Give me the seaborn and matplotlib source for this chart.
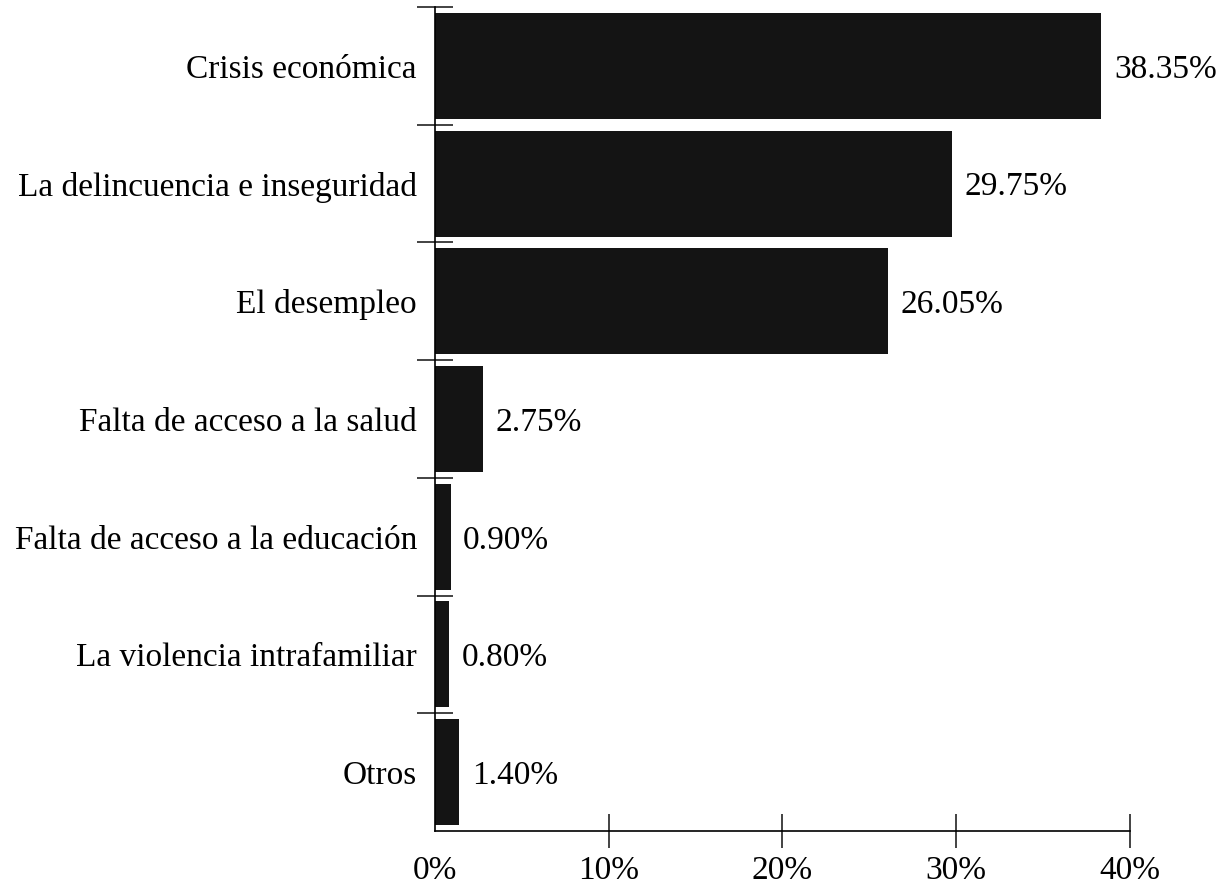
import matplotlib
matplotlib.use("Agg")
import matplotlib.pyplot as plt
import numpy as np
import pandas as pd
import seaborn as sns

categorias = [
    "Crisis económica",
    "La delincuencia e inseguridad",
    "El desempleo",
    "Falta de acceso a la salud",
    "Falta de acceso a la educación",
    "La violencia intrafamiliar",
    "Otros",
]
porcentajes = [38.35, 29.75, 26.05, 2.75, 0.90, 0.80, 1.40]
ticks_x = [0, 10, 20, 30, 40]

df = pd.DataFrame({"categoria": categorias, "porcentaje": porcentajes})

sns.set_theme(style="white")
plt.rcParams["font.family"] = ["Liberation Serif", "DejaVu Serif"]
plt.rcParams["text.color"] = "black"

fig = plt.figure(figsize=(12.19, 8.85), dpi=100)
ax = fig.add_axes([0.3568, 0.061, 0.927 - 0.3568, 0.992 - 0.061])

sns.barplot(data=df, x="porcentaje", y="categoria", color="#141414",
            saturation=1, width=0.9, ax=ax, edgecolor="none")

for cont in ax.containers:
    txts = ax.bar_label(cont, labels=[f"{v:.2f}%" for v in porcentajes],
                        padding=9, fontsize=24, color="black")
    for t in txts:
        t.set_verticalalignment("center_baseline")

ax.set_xlim(0, 40)
ax.set_ylim(len(categorias) - 0.5, -0.5)
ax.set_xticks(ticks_x)
ax.set_xticklabels([f"{t}%" for t in ticks_x])
ax.set_xlabel("")
ax.set_ylabel("")

# separadores entre categorias
ax.set_yticks(np.arange(-0.5, len(categorias) - 1, 1.0), minor=True)
ax.tick_params(axis="y", which="minor", direction="inout", length=26,
               width=1.2, color="#222222", left=True)
ax.tick_params(axis="y", which="major", length=0, pad=13, labelsize=24,
               labelcolor="black")
ax.tick_params(axis="x", which="major", direction="inout", length=25,
               width=1.2, color="#222222", bottom=True, pad=5, labelsize=24,
               labelcolor="black")
ax.xaxis.get_major_ticks()[0].tick1line.set_visible(False)
for lbl in ax.get_yticklabels():
    lbl.set_verticalalignment("center_baseline")

for s in ["top", "right"]:
    ax.spines[s].set_visible(False)
for s in ["left", "bottom"]:
    ax.spines[s].set_color("black")
    ax.spines[s].set_linewidth(1.2)

fig.savefig("out.png", dpi=100)
